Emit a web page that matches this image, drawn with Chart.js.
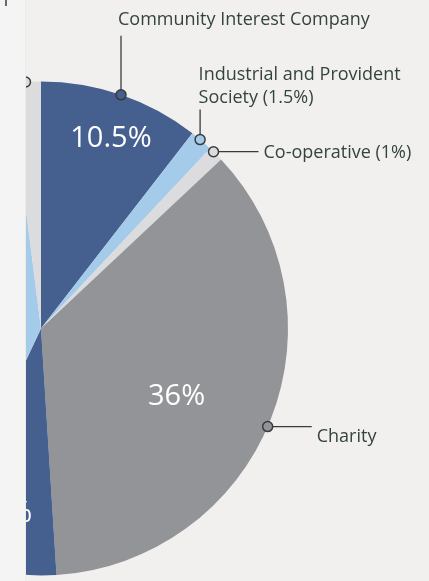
<!DOCTYPE html>
<html>
<head>
<meta charset="utf-8">
<script src="https://cdn.jsdelivr.net/npm/chart.js@4.4.0/dist/chart.umd.min.js"></script>
<style>
  html, body { margin: 0; padding: 0; }
  body { width: 429px; height: 581px; background: #f1f0ef; position: relative; overflow: hidden; }
  #pie { position: absolute; left: -220px; top: 0; width: 649px; height: 581px; }
  .strip { position: absolute; left: 0; top: 0; width: 26px; height: 581px; background: #f4f4f4; border-right: 1px solid #ecebea; box-sizing: border-box; }
  .tick { position: absolute; left: 5px; top: 0; width: 2px; height: 6px; background: #6a6a6a; }
</style>
</head>
<body>
<canvas id="pie" width="649" height="581"></canvas>
<div class="strip"><div class="tick"></div></div>
<script>
// slices, clockwise from 12 o'clock
const categories = [
  'Community Interest Company',
  'Industrial and Provident Society',
  'Co-operative',
  'Charity',
  'Company limited by shares',
  'Company limited by guarantee',
  'Other'
];
const shares = [10.5, 1.5, 1, 36, 8, 41, 2];
const insideLabels = ['10.5%', null, null, '36%', '8%', '41%', null];
const calloutTexts = [
  ['Community Interest Company'],
  ['Industrial and Provident', 'Society (1.5%)'],
  ['Co-operative (1%)'],
  ['Charity'],
  null,
  null,
  ['Other (2%)']
];
const sliceColors = ['#455f8f', '#a4cbea', '#dcdcdf', '#939497', '#455f8f', '#a4cbea', '#dcdcdf'];

// label placement: inside labels [radius fraction, angle shift deg]
const insidePlace = [[0.82, 1.3], null, null, [0.615, 5.2], [0.76, -1.9], [0.6, 0], null];
// callouts: direction, line length, text dx, text baseline dy (of last line), marker angle shift
const calloutPlace = [
  {dir: 'up', len: 59, dx: -3, dy: -11, shift: 0},
  {dir: 'up', len: 30, dx: -1.5, dy: -6.5, shift: -0.4},
  {dir: 'right', len: 45, dx: 5, dy: 6, shift: -0.7},
  {dir: 'right', len: 44, dx: 5, dy: 15, shift: 1.8},
  null, null,
  {dir: 'left', len: 45, dx: -5, dy: 6, shift: 0}
];

const labelPlugin = {
  id: 'pieLabels',
  afterDraw(chart) {
    const ctx = chart.ctx;
    const arcs = chart.getDatasetMeta(0).data;
    arcs.forEach((arc, i) => {
      const {x, y, startAngle, endAngle, outerRadius} = arc.getProps(['x', 'y', 'startAngle', 'endAngle', 'outerRadius'], true);
      const mid = (startAngle + endAngle) / 2;

      // percentage inside the slice
      if (insideLabels[i]) {
        const p = insidePlace[i];
        const a = mid + p[1] * Math.PI / 180;
        const r = outerRadius * p[0];
        ctx.save();
        ctx.font = '29px "Open Sans", sans-serif';
        ctx.fillStyle = '#ffffff';
        ctx.textAlign = 'center';
        ctx.textBaseline = 'middle';
        ctx.fillText(insideLabels[i], x + Math.cos(a) * r, y + Math.sin(a) * r);
        ctx.restore();
      }

      // callout with marker
      const c = calloutPlace[i];
      if (c && calloutTexts[i]) {
        const ma = mid + c.shift * Math.PI / 180;
        const mx = x + Math.cos(ma) * outerRadius;
        const my = y + Math.sin(ma) * outerRadius;
        let ex = mx, ey = my;
        if (c.dir === 'up') ey -= c.len;
        if (c.dir === 'right') ex += c.len;
        if (c.dir === 'left') ex -= c.len;

        ctx.save();
        ctx.strokeStyle = '#3a3a3a';
        ctx.lineWidth = 1.3;
        ctx.beginPath();
        ctx.moveTo(mx, my);
        ctx.lineTo(ex, ey);
        ctx.stroke();

        ctx.beginPath();
        ctx.arc(mx, my, 5, 0, Math.PI * 2);
        ctx.fillStyle = sliceColors[i];
        ctx.fill();
        ctx.lineWidth = 1.5;
        ctx.stroke();

        ctx.font = '18px "Open Sans", sans-serif';
        ctx.fillStyle = '#33443a';
        ctx.textAlign = c.dir === 'left' ? 'right' : 'left';
        ctx.textBaseline = 'alphabetic';
        const lines = calloutTexts[i];
        const lh = 23.5;
        lines.forEach((t, k) => {
          ctx.fillText(t, ex + c.dx, ey + c.dy - (lines.length - 1 - k) * lh);
        });
        ctx.restore();
      }
    });
  }
};

new Chart(document.getElementById('pie'), {
  type: 'pie',
  data: {
    labels: categories,
    datasets: [{
      data: shares,
      backgroundColor: sliceColors,
      borderWidth: 0,
      hoverOffset: 0
    }]
  },
  options: {
    responsive: false,
    animation: false,
    events: [],
    layout: { padding: { left: 14, right: 141, top: 81.5, bottom: 5.5 } },
    plugins: {
      legend: { display: false },
      tooltip: { enabled: false }
    }
  },
  plugins: [labelPlugin]
});
</script>
</body>
</html>
